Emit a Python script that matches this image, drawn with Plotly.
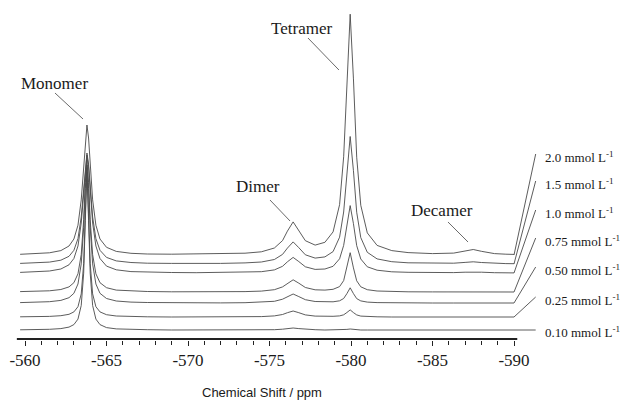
import plotly.graph_objects as go

# ---------------- data ----------------
shift_ppm = [-559.7, -560.5, -561.5, -562.2, -562.7, -563.0, -563.25, -563.45, -563.6, -563.7,
             -563.8, -563.9, -564.0, -564.15, -564.35, -564.6, -565.0, -565.6, -566.5, -567.5,
             -569.0, -570.5, -572.0, -573.5, -574.5, -575.3, -575.8, -576.1, -576.45, -576.8,
             -577.2, -577.8, -578.4, -578.9, -579.3, -579.55, -579.75, -579.95, -580.15, -580.35,
             -580.6, -581.0, -581.6, -582.5, -583.5, -585.0, -586.3, -587.0, -587.5, -588.0,
             -588.8, -589.5, -590.0]

spec_2_0 = [0.7, 1.1, 2.2, 4.4, 9.0, 16.0, 29.8, 55.1, 90.0, 117.0,
            130.0, 117.0, 90.0, 55.1, 29.8, 16.0, 7.7, 3.6, 1.7, 1.0,
            0.8, 0.9, 1.1, 1.8, 3.2, 7.0, 14.4, 23.9, 33.1, 24.7,
            14.3, 9.9, 12.7, 23.1, 50.3, 98.2, 176.2, 240.8, 176.1, 97.8,
            49.7, 22.1, 9.6, 4.4, 2.4, 1.4, 1.9, 3.8, 5.5, 3.7,
            1.4, 0.8, 0.6]
spec_1_5 = [0.6, 0.9, 1.9, 3.8, 7.7, 13.7, 25.4, 47.0, 76.8, 99.9,
            111.0, 99.9, 76.8, 47.0, 25.4, 13.7, 6.6, 3.1, 1.5, 0.8,
            0.6, 0.5, 0.6, 1.1, 2.0, 4.5, 9.6, 15.9, 22.1, 16.3,
            9.2, 5.9, 7.1, 12.4, 26.8, 52.0, 93.4, 127.5, 93.3, 51.8,
            26.4, 11.7, 5.1, 2.3, 1.2, 0.7, 0.8, 1.6, 2.2, 1.5,
            0.6, 0.4, 0.3]
spec_1_0 = [0.6, 1.0, 2.0, 4.0, 8.2, 14.5, 27.0, 50.0, 81.7, 106.2,
            118.0, 106.2, 81.7, 50.0, 27.0, 14.5, 6.9, 3.2, 1.4, 0.8,
            0.5, 0.3, 0.6, 0.8, 1.3, 3.1, 6.7, 11.2, 15.6, 11.4,
            6.2, 3.6, 4.0, 6.7, 14.2, 27.6, 49.4, 67.4, 49.3, 27.4,
            14.0, 6.2, 2.8, 1.2, 0.7, 0.3, 0.4, 0.8, 1.1, 0.8,
            0.3, 0.1, 0.1]
spec_0_75 = [0.4, 0.6, 1.2, 2.5, 5.1, 9.3, 18.2, 37.4, 72.3, 109.4,
             132.0, 109.4, 72.3, 37.4, 18.2, 9.3, 4.3, 1.9, 0.9, 0.5,
             0.2, 0.1, 0.2, 0.4, 0.9, 2.3, 5.1, 8.7, 12.2, 8.8,
             4.5, 2.2, 1.9, 2.7, 5.4, 11.4, 24.1, 39.3, 24.1, 11.2,
             5.2, 2.3, 1.0, 0.5, 0.2, 0.1, 0.0, 0.0, 0.0, 0.0,
             0.0, 0.0, 0.0]
spec_0_50 = [0.4, 0.6, 1.3, 2.6, 5.3, 9.7, 19.0, 39.1, 75.6, 114.4,
             138.0, 114.4, 75.6, 39.1, 19.0, 9.7, 4.5, 2.0, 0.9, 0.5,
             0.2, 0.1, 0.1, 0.3, 0.7, 1.7, 3.8, 6.4, 9.0, 6.4,
             3.3, 1.5, 1.0, 1.2, 2.2, 4.5, 9.4, 15.2, 9.4, 4.4,
             2.1, 0.9, 0.4, 0.1, 0.0, 0.0, 0.0, 0.0, 0.0, 0.0,
             0.0, 0.0, 0.0]
spec_0_25 = [0.2, 0.3, 0.6, 1.3, 2.7, 5.1, 10.3, 23.1, 53.6, 103.1,
             149.0, 103.1, 53.6, 23.1, 10.3, 5.1, 2.3, 1.0, 0.5, 0.2,
             0.0, 0.0, 0.1, 0.2, 0.4, 1.1, 2.5, 4.3, 6.0, 4.3,
             2.1, 0.9, 0.6, 0.7, 1.1, 2.2, 4.5, 7.1, 4.4, 2.1,
             0.9, 0.4, 0.2, 0.0, 0.0, 0.0, 0.0, 0.0, 0.0, 0.0,
             0.0, 0.0, 0.0]
spec_0_10 = [0.2, 0.3, 0.7, 1.4, 2.9, 5.4, 10.9, 24.5, 56.9, 109.3,
             158.0, 109.3, 56.9, 24.5, 10.9, 5.4, 2.4, 1.1, 0.5, 0.3,
             0.0, 0.0, 0.0, 0.0, 0.0, 0.3, 0.8, 1.4, 2.0, 1.4,
             0.7, 0.3, 0.0, 0.0, 0.0, 0.3, 0.6, 1.0, 0.6, 0.3,
             0.0, 0.0, 0.0, 0.0, 0.0, 0.0, 0.0, 0.0, 0.0, 0.0,
             0.0, 0.0, 0.0]

concentrations = ["0.10", "0.25", "0.50", "0.75", "1.0", "1.5", "2.0"]
spectra = [spec_0_10, spec_0_25, spec_0_50, spec_0_75, spec_1_0, spec_1_5, spec_2_0]
stack_offsets = [9, 22, 36, 47, 66, 75, 84]
label_levels = [7, 39, 69, 98, 126, 155, 182]
connector_levels = [9, 42, 72, 101, 129, 158, 185]

major_ticks = [-560, -565, -570, -575, -580, -585, -590]
major_tick_text = ["-560", "-565", "-570", "-575", "-580", "-585", "-590"]
minor_ticks = [v for v in range(-561, -590, -1) if v % 5 != 0]

peak_names = ["Monomer", "Dimer", "Tetramer", "Decamer"]
peak_label_pos = [(-561.84, 256), (-574.29, 153), (-576.99, 311), (-585.58, 129)]
peak_leaders = [((-561.84, 246), (-563.56, 220)),
                ((-575.03, 139), (-576.26, 118)),
                ((-577.36, 301), (-579.26, 269)),
                ((-585.95, 117), (-587.18, 97))]

SERIF = "Liberation Serif, Times New Roman, serif"
SANS = "Liberation Sans, Arial, sans-serif"
LINE = "#4a4a4a"
TEXT = "#1a1a1a"

fig = go.Figure()

for conc, spec, off in zip(concentrations, spectra, stack_offsets):
    fig.add_trace(go.Scatter(
        x=shift_ppm, y=[off + v for v in spec], mode="lines",
        line=dict(color=LINE, width=0.9), name=conc + " mmol/L",
        showlegend=False, hoverinfo="skip"))

anns = []
shapes = []
x_end = shift_ppm[-1]
for conc, off, ly, cy in zip(concentrations, stack_offsets, label_levels, connector_levels):
    fig.add_trace(go.Scatter(
        x=[x_end, -591.33], y=[off, cy], mode="lines",
        line=dict(color=LINE, width=0.9), showlegend=False, hoverinfo="skip"))
    anns.append(dict(x=-591.78, y=ly, xref="x", yref="y", xanchor="left", yanchor="middle",
                     text=conc + " mmol L<sup>-1</sup>", showarrow=False,
                     font=dict(family=SERIF, size=13, color=TEXT)))

for name, (px, py), ((x0, y0), (x1, y1)) in zip(peak_names, peak_label_pos, peak_leaders):
    anns.append(dict(x=px, y=py, xref="x", yref="y", text=name, showarrow=False,
                     xanchor="center", yanchor="middle",
                     font=dict(family=SERIF, size=17, color=TEXT)))
    shapes.append(dict(type="line", xref="x", yref="y", x0=x0, y0=y0, x1=x1, y1=y1,
                       line=dict(color="#444", width=0.8)))

# axis base line (only spans the scale)
shapes.append(dict(type="line", xref="x", yref="y", x0=-559.5, x1=-590.2, y0=0, y1=0,
                   line=dict(color="#222", width=2)))

anns.append(dict(x=-574.54, y=-0.153, xref="x", yref="paper", text="Chemical Shift / ppm",
                 showarrow=False, xanchor="center", yanchor="middle",
                 font=dict(family=SANS, size=13, color=TEXT)))

fig.update_layout(
    width=622, height=400,
    margin=dict(l=15, r=0, t=0, b=60),
    paper_bgcolor="white", plot_bgcolor="white",
    annotations=anns, shapes=shapes,
    xaxis=dict(range=[-559.3865, -596.626], showgrid=False, zeroline=False, showline=False,
               tickmode="array", tickvals=major_ticks, ticktext=major_tick_text,
               ticks="outside", ticklen=5, tickwidth=1.2, tickcolor="#222",
               tickfont=dict(family=SERIF, size=17, color=TEXT),
               minor=dict(tickmode="array", tickvals=minor_ticks, ticks="outside",
                          ticklen=4, tickwidth=1, tickcolor="#222", showgrid=False)),
    yaxis=dict(range=[-1, 339], visible=False, showgrid=False, zeroline=False),
)

fig.write_html("out.html")
